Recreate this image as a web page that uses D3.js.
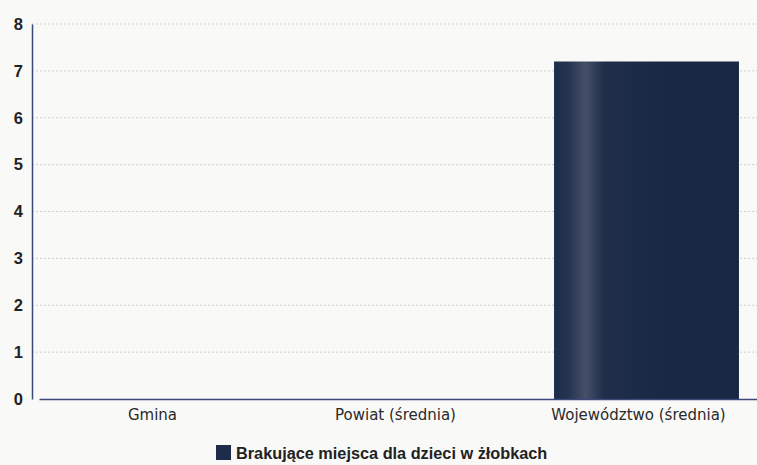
<!DOCTYPE html>
<html><head><meta charset="utf-8">
<script src="https://cdn.jsdelivr.net/npm/d3@7"></script>
<style>html,body{margin:0;padding:0;background:#f9f9f8;}svg{display:block;}</style>
</head><body>
<svg id="c" width="757" height="465"></svg>
<script>
const categories = ["Gmina", "Powiat (średnia)", "Województwo (średnia)"];
const values = [0, 0, 7.2];
const yTicks = [0, 1, 2, 3, 4, 5, 6, 7, 8];
const seriesName = "Brakujące miejsca dla dzieci w żłobkach";

const svg = d3.select("#c");
const W = 757, H = 465;
const x = d3.scaleBand().domain(categories).range([39, 768]).paddingInner(0.239).paddingOuter(0.1195);
const y = d3.scaleLinear().domain([0, 8]).range([399, 24]);

const defs = svg.append("defs");
const g = defs.append("linearGradient").attr("id", "bg").attr("x1", "0").attr("x2", "1").attr("y1", "0").attr("y2", "0");
[[0, "#1d2d4a"], [0.08, "#26354f"], [0.17, "#454f67"], [0.27, "#202e4a"], [0.6, "#182845"], [1, "#192842"]]
  .forEach(([o, c]) => g.append("stop").attr("offset", o).attr("stop-color", c));

// grid
svg.append("g").selectAll("line").data(yTicks.filter(t => t > 0)).join("line")
  .attr("x1", 32).attr("x2", W).attr("y1", d => y(d)).attr("y2", d => y(d))
  .attr("stroke", "#cfcfcf").attr("stroke-width", 1).attr("stroke-dasharray", "2,2");

// bars
svg.append("g").selectAll("rect").data(categories.map((c, i) => ({c, v: values[i]}))).join("rect")
  .attr("x", d => x(d.c)).attr("width", x.bandwidth())
  .attr("y", d => y(d.v)).attr("height", d => y(0) - y(d.v))
  .attr("fill", "url(#bg)");

// y axis
const ya = svg.append("g").attr("transform", "translate(32,0)")
  .call(d3.axisLeft(y).tickValues(yTicks).tickSize(0).tickPadding(9).tickFormat(d3.format("d")));
ya.select(".domain").attr("stroke", "#3b4878").attr("stroke-width", 1.5);
ya.selectAll("text").attr("font-family", "Liberation Sans, Arial, sans-serif").attr("font-size", 16.5)
  .attr("font-weight", "bold").attr("fill", "#222");

// x axis
const xa = svg.append("g").attr("transform", `translate(0,${y(0)})`)
  .call(d3.axisBottom(x).tickSize(0).tickPadding(10));
xa.select(".domain").attr("stroke", "#3b4878").attr("stroke-width", 1.5);
xa.selectAll("text").attr("font-family", "DejaVu Sans, Verdana, sans-serif").attr("font-size", 15)
  .attr("dx", -8).attr("fill", "#2a2a2a");

// legend
const lg = svg.append("g").attr("transform", "translate(216,445)");
lg.append("rect").attr("width", 15).attr("height", 15).attr("fill", "#1d2c4b");
lg.append("text").attr("x", 20).attr("y", 13.5).text(seriesName)
  .attr("font-family", "Liberation Sans, Arial, sans-serif").attr("font-size", 16.3).attr("font-weight", "bold").attr("fill", "#222");
</script>
</body></html>
